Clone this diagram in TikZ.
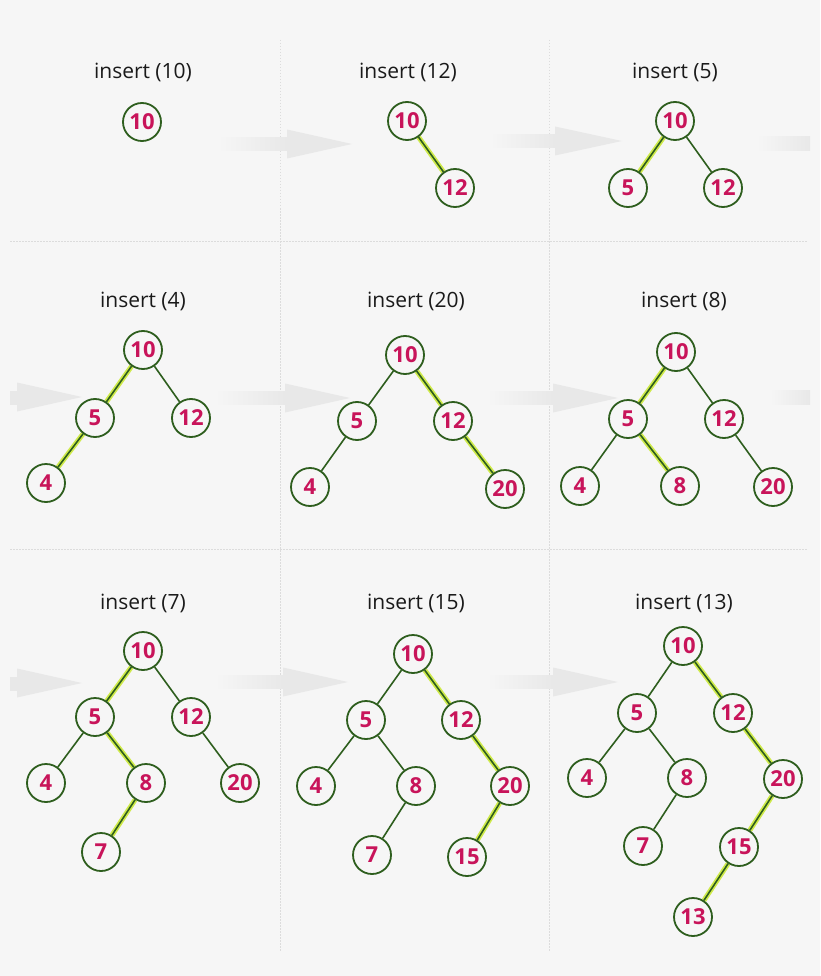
\documentclass[tikz,border=0pt]{standalone}
\usepackage{fontspec}
\setmainfont{Open Sans}
\pgfdeclarelayer{bglayer}
\pgfdeclarelayer{edgelayer}
\pgfsetlayers{bglayer,edgelayer,main}
\definecolor{bgc}{HTML}{F6F6F6}
\definecolor{arr}{HTML}{E8E8E8}
\definecolor{treegreen}{HTML}{2E5E1E}
\definecolor{numred}{HTML}{C8145A}
\definecolor{glow}{HTML}{CFEA4A}
\definecolor{divc}{HTML}{DCDCDC}
\definecolor{titlec}{HTML}{1A1A1A}
\tikzset{
  bnode/.style={circle,draw=treegreen,line width=1.8pt,fill=bgc,minimum size=38pt,inner sep=0pt,
    font=\bfseries\fontsize{22}{22}\selectfont,text=numred},
  ttl/.style={font=\fontsize{21}{21}\selectfont,text=titlec,inner sep=0pt},
  edge/.style={draw=treegreen,line width=1.6pt},
  hl/.style={preaction={draw=glow,line width=5pt},draw=treegreen,line width=1.6pt},
  divider/.style={draw=divc,line width=0.8pt,dash pattern=on 1.5pt off 1.5pt}
}
\newcommand\grayarrow[4]{%
  \shade[left color=bgc,right color=arr] (#1,#4-6.5) rectangle (#2,#4+6.5);
  \fill[arr] (#2,#4-14.5) -- (#3,#4) -- (#2,#4+14.5) -- cycle;}
\newcommand\graybody[3]{%
  \shade[left color=bgc,right color=arr] (#1,#3-7) rectangle (#2,#3+7);}
\begin{document}
\begin{tikzpicture}[x=1pt,y=-1pt]
\begin{pgfonlayer}{bglayer}
\fill[bgc] (0,0) rectangle (820,976);
\useasboundingbox (0,0) rectangle (820,976);
% dividers
\draw[divider] (280,40) -- (280,952);
\draw[divider] (549,40) -- (549,952);
\draw[divider] (10,241) -- (808,241);
\draw[divider] (10,549) -- (808,549);
% arrows row 1
\grayarrow{218}{287}{352}{144}
\grayarrow{490}{555}{622}{141}
\graybody{757}{810}{144}
% arrows row 2
\fill[arr] (10,390.5) rectangle (17,404.5);
\fill[arr] (17,382.5) -- (82,397) -- (17,411.5) -- cycle;
\grayarrow{215}{285}{350}{398}
\grayarrow{487}{553}{618}{398}
\graybody{770}{810}{397}
% arrows row 3
\fill[arr] (10,676.5) rectangle (17,690.5);
\fill[arr] (17,668.5) -- (82,683) -- (17,697.5) -- cycle;
\grayarrow{215}{283}{348}{682}
\grayarrow{487}{553}{618}{682}
\end{pgfonlayer}

% titles
\node[ttl] (t1) at (143,72) {insert (10)};
\node[ttl] (t2) at (408,72) {insert (12)};
\node[ttl] (t3) at (675,72) {insert (5)};
\node[ttl] (t4) at (143,301) {insert (4)};
\node[ttl] (t5) at (416,301) {insert (20)};
\node[ttl] (t6) at (684,301) {insert (8)};
\node[ttl] (t7) at (143,603) {insert (7)};
\node[ttl] (t8) at (416,603) {insert (15)};
\node[ttl] (t9) at (684,603) {insert (13)};

% panel 1
\node[bnode] (a10) at (142,122) {10};
% panel 2
\node[bnode] (b10) at (407,121) {10};
\node[bnode] (b12) at (455,188) {12};
% panel 3
\node[bnode] (c10) at (675,121) {10};
\node[bnode] (c5) at (628,188) {5};
\node[bnode] (c12) at (723,188) {12};
% panel 4
\node[bnode] (d10) at (143,350) {10};
\node[bnode] (d5) at (95,418) {5};
\node[bnode] (d12) at (191,418) {12};
\node[bnode] (d4) at (46,483) {4};
% panel 5
\node[bnode] (e10) at (405,355) {10};
\node[bnode] (e5) at (357,421) {5};
\node[bnode] (e12) at (453,421) {12};
\node[bnode] (e4) at (310,487) {4};
\node[bnode] (e20) at (505,489) {20};
% panel 6
\node[bnode] (f10) at (676,352) {10};
\node[bnode] (f5) at (628,419) {5};
\node[bnode] (f12) at (724,419) {12};
\node[bnode] (f4) at (580,486) {4};
\node[bnode] (f8) at (680,486) {8};
\node[bnode] (f20) at (773,487) {20};
% panel 7
\node[bnode] (g10) at (143,651) {10};
\node[bnode] (g5) at (95,717) {5};
\node[bnode] (g12) at (191,717) {12};
\node[bnode] (g4) at (46,783) {4};
\node[bnode] (g8) at (146,783) {8};
\node[bnode] (g20) at (240,783) {20};
\node[bnode] (g7) at (101,852) {7};
% panel 8
\node[bnode] (h10) at (413,654) {10};
\node[bnode] (h5) at (366,720) {5};
\node[bnode] (h12) at (461,720) {12};
\node[bnode] (h4) at (316,786) {4};
\node[bnode] (h8) at (416,786) {8};
\node[bnode] (h20) at (510,786) {20};
\node[bnode] (h7) at (372,855) {7};
\node[bnode] (h15) at (467,857) {15};
% panel 9
\node[bnode] (i10) at (683,646) {10};
\node[bnode] (i5) at (637,713) {5};
\node[bnode] (i12) at (733,713) {12};
\node[bnode] (i4) at (587,778) {4};
\node[bnode] (i8) at (687,778) {8};
\node[bnode] (i20) at (783,779) {20};
\node[bnode] (i7) at (643,846) {7};
\node[bnode] (i15) at (739,847) {15};
\node[bnode] (i13) at (693,917) {13};

\begin{pgfonlayer}{edgelayer}
% panel 2
\draw[hl] (b10) -- (b12);
% panel 3
\draw[hl] (c10) -- (c5);
\draw[edge] (c10) -- (c12);
% panel 4
\draw[hl] (d10) -- (d5);
\draw[edge] (d10) -- (d12);
\draw[hl] (d5) -- (d4);
% panel 5
\draw[edge] (e10) -- (e5);
\draw[hl] (e10) -- (e12);
\draw[edge] (e5) -- (e4);
\draw[hl] (e12) -- (e20);
% panel 6
\draw[hl] (f10) -- (f5);
\draw[edge] (f10) -- (f12);
\draw[edge] (f5) -- (f4);
\draw[hl] (f5) -- (f8);
\draw[edge] (f12) -- (f20);
% panel 7
\draw[hl] (g10) -- (g5);
\draw[edge] (g10) -- (g12);
\draw[edge] (g5) -- (g4);
\draw[hl] (g5) -- (g8);
\draw[edge] (g12) -- (g20);
\draw[hl] (g8) -- (g7);
% panel 8
\draw[edge] (h10) -- (h5);
\draw[hl] (h10) -- (h12);
\draw[edge] (h5) -- (h4);
\draw[edge] (h5) -- (h8);
\draw[hl] (h12) -- (h20);
\draw[edge] (h8) -- (h7);
\draw[hl] (h20) -- (h15);
% panel 9
\draw[edge] (i10) -- (i5);
\draw[hl] (i10) -- (i12);
\draw[edge] (i5) -- (i4);
\draw[edge] (i5) -- (i8);
\draw[hl] (i12) -- (i20);
\draw[edge] (i8) -- (i7);
\draw[hl] (i20) -- (i15);
\draw[hl] (i15) -- (i13);
\end{pgfonlayer}
\end{tikzpicture}
\end{document}
